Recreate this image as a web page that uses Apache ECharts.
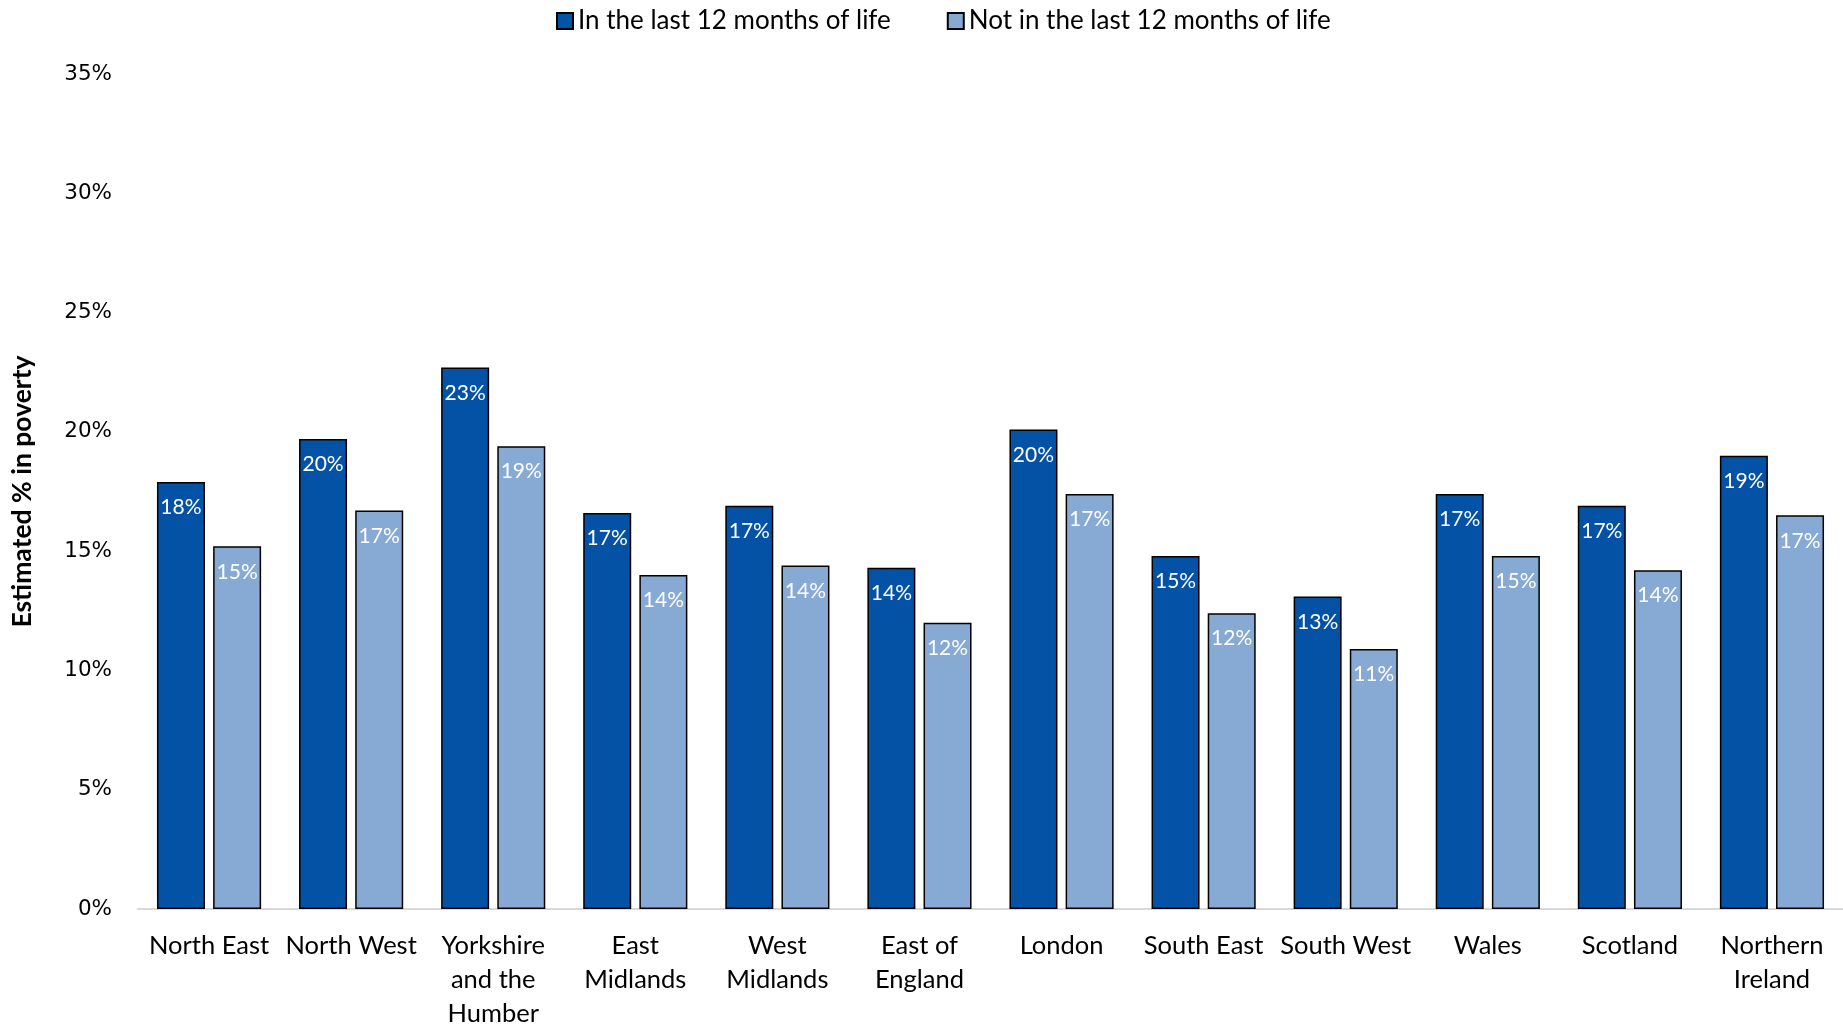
<!DOCTYPE html>
<html>
<head>
<meta charset="utf-8">
<script src="https://cdn.jsdelivr.net/npm/echarts@6/dist/echarts.min.js"></script>
<style>
  html, body { margin: 0; padding: 0; background: #fff; }
  #chart { width: 1843px; height: 1028px; }
</style>
</head>
<body>
<div id="chart"></div>
<script>
// regions along the x axis
var regions = [
  "North East", "North West", "Yorkshire\nand the\nHumber", "East\nMidlands",
  "West\nMidlands", "East of\nEngland", "London", "South East", "South West",
  "Wales", "Scotland", "Northern\nIreland"
];
// estimated % in poverty
var lastYear = [17.9, 19.7, 22.7, 16.6, 16.9, 14.3, 20.1, 14.8, 13.1, 17.4, 16.9, 19.0];
var notLastYear = [15.2, 16.7, 19.4, 14.0, 14.4, 12.0, 17.4, 12.4, 10.9, 14.8, 14.2, 16.5];
var seriesNames = ["In the last 12 months of life", "Not in the last 12 months of life"];

var myChart = echarts.init(document.getElementById("chart"));

var labelOption = {
  show: true,
  position: "insideTop",
  distance: 15,
  color: "#ffffff",
  fontFamily: "Lato",
  fontSize: 21,
  formatter: function (p) {
    return Math.round(p.value) + "%";
  },
};

var option = {
  animation: false,
  textStyle: { fontFamily: "Lato" },
  legend: {
    top: 3,
    left: 551,
    itemWidth: 16,
    itemHeight: 16,
    itemGap: 56,
    icon: "rect",
    textStyle: { fontSize: 26, color: "#000", fontFamily: "Lato" },
    data: seriesNames,
  },
  grid: { left: 138, right: 0, top: 74, bottom: 119, outerBoundsMode: "none" },
  xAxis: {
    type: "category",
    data: regions,
    axisTick: { show: false },
    axisLine: { lineStyle: { color: "#d9d9d9", width: 2 } },
    axisLabel: {
      interval: 0,
      fontSize: 25.5,
      lineHeight: 34,
      margin: 20,
      color: "#000",
      fontFamily: "Lato",
    },
  },
  yAxis: {
    type: "value",
    min: 0,
    max: 35,
    interval: 5,
    name: "Estimated % in poverty",
    nameLocation: "middle",
    nameGap: 102,
    nameTextStyle: { fontSize: 26.5, fontWeight: "bold", color: "#000", fontFamily: "Lato" },
    splitLine: { show: false },
    axisLine: { show: false },
    axisTick: { show: false },
    axisLabel: {
      formatter: "{value}%",
      fontSize: 21.5,
      margin: 26,
      color: "#000",
      fontFamily: "DejaVu Sans",
    },
  },
  series: [
    {
      name: seriesNames[0],
      type: "bar",
      barWidth: 48,
      barGap: "17%",
      data: lastYear,
      itemStyle: { color: "#0352a5", borderColor: "#000", borderWidth: 1.5 },
      label: labelOption,
    },
    {
      name: seriesNames[1],
      type: "bar",
      barWidth: 48,
      data: notLastYear,
      itemStyle: { color: "#86aad4", borderColor: "#000", borderWidth: 1.5 },
      label: labelOption,
    },
  ],
};
myChart.setOption(option);
</script>
</body>
</html>
